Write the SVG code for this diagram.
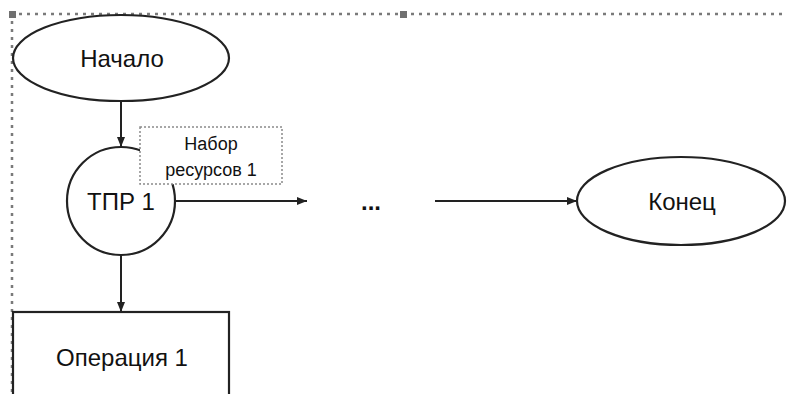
<svg xmlns="http://www.w3.org/2000/svg" width="787" height="394" viewBox="0 0 787 394">
  <style>
    .shape { fill: #fff; stroke: #222; stroke-width: 2.2; }
    .edge { fill: none; stroke: #222; stroke-width: 2; }
    .sel { fill: none; stroke: #7a7a7a; stroke-width: 2.5; stroke-dasharray: 3 5; }
    .handle { fill: #707070; }
    .lbl { font-family: "Liberation Sans", Arial, sans-serif; font-size: 24px; fill: #111; text-anchor: middle; }
    .note { font-family: "Liberation Sans", Arial, sans-serif; font-size: 18px; fill: #111; text-anchor: middle; }
    .notebox { fill: #fff; stroke: #8a8a8a; stroke-width: 1.5; stroke-dasharray: 2 2; }
  </style>
  <defs>
    <marker id="arrow" viewBox="0 0 10 8" refX="10" refY="4" markerWidth="10" markerHeight="8" markerUnits="userSpaceOnUse" orient="auto">
      <path d="M0,0 L10,4 L0,8 Z" fill="#222"/>
    </marker>
  </defs>
  <rect width="787" height="394" fill="#fff"/>

  <!-- selection frame -->
  <g id="selection">
    <line class="sel" x1="19" y1="14" x2="787" y2="14"/>
    <line class="sel" x1="12" y1="21" x2="12" y2="394"/>
    <rect class="handle" x="9" y="11" width="7" height="7"/>
    <rect class="handle" x="400" y="11" width="7" height="7"/>
  </g>

  <!-- connectors -->
  <g id="connectors">
    <line class="edge" x1="121" y1="101" x2="121" y2="147" marker-end="url(#arrow)"/>
    <line class="edge" x1="175" y1="201" x2="307" y2="201" marker-end="url(#arrow)"/>
    <line class="edge" x1="435" y1="201" x2="577" y2="201" marker-end="url(#arrow)"/>
    <line class="edge" x1="121" y1="255" x2="121" y2="312" marker-end="url(#arrow)"/>
  </g>

  <g id="start">
    <ellipse class="shape" cx="121" cy="58" rx="108" ry="43"/>
    <text class="lbl" x="122" y="67">Начало</text>
  </g>

  <g id="decision1">
    <circle class="shape" cx="121" cy="201" r="54"/>
    <text class="lbl" x="121" y="210">ТПР 1</text>
  </g>

  <g id="resources1">
    <rect class="notebox" x="140" y="127" width="142" height="57"/>
    <text class="note" x="211" y="150">Набор</text>
    <text class="note" x="211" y="176">ресурсов 1</text>
  </g>

  <g id="ellipsis">
    <text class="lbl" x="371" y="210" font-weight="bold">...</text>
  </g>

  <g id="end">
    <ellipse class="shape" cx="681" cy="201" rx="104" ry="44"/>
    <text class="lbl" x="682" y="210">Конец</text>
  </g>

  <g id="operation1">
    <rect class="shape" x="13" y="312" width="216" height="100"/>
    <text class="lbl" x="122" y="366">Операция 1</text>
  </g>
</svg>
